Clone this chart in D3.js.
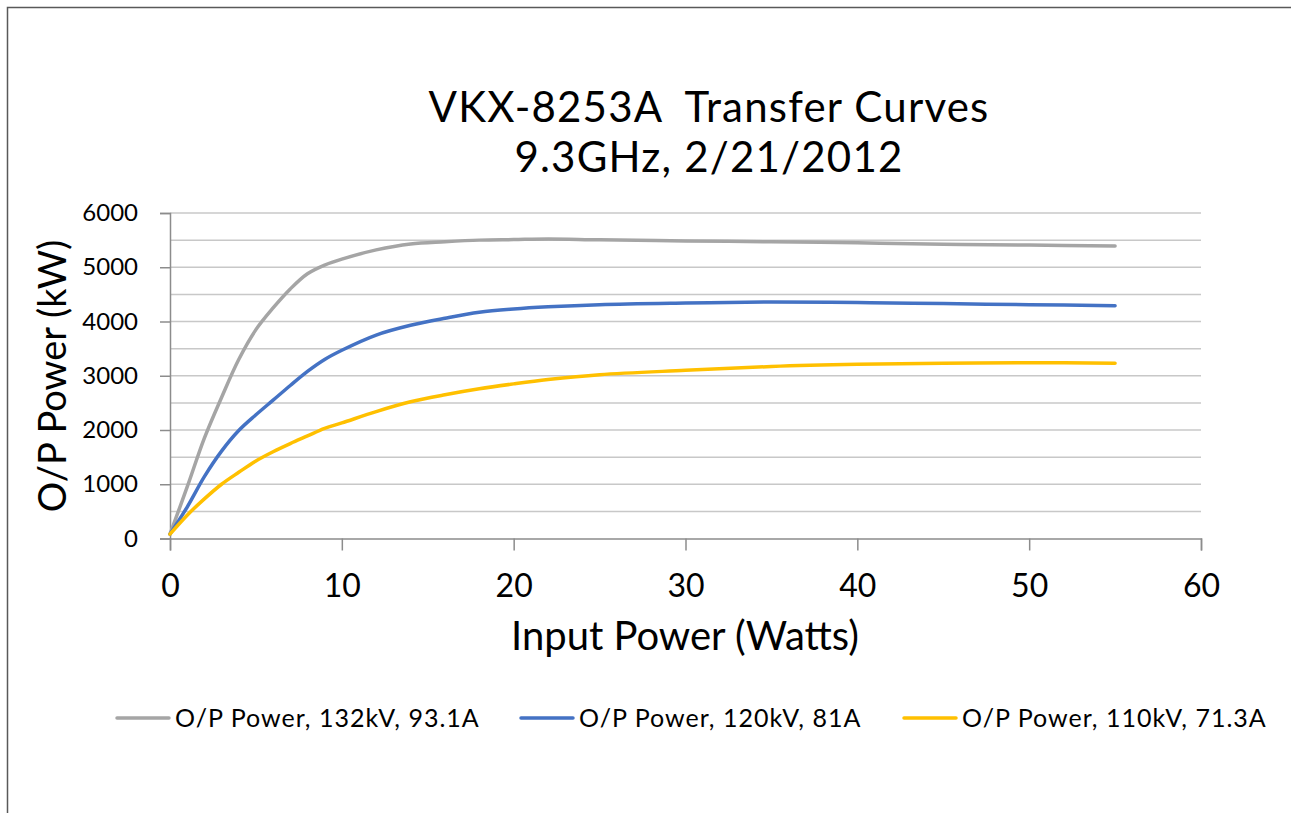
<!DOCTYPE html>
<html>
<head>
<meta charset="utf-8">
<script src="https://cdn.jsdelivr.net/npm/d3@7"></script>
<style>
  body { margin: 0; background: #fff; }
  text { font-family: Lato, "Open Sans", sans-serif; fill: #000; }
</style>
</head>
<body>
<div id="chart"></div>
<script>
// input power (W)
var inputPower = [0, 1, 2, 3, 4, 5, 6, 7, 8, 9, 10, 12, 14, 16, 18, 20, 22, 25, 30, 35, 40, 45, 50, 55];

// O/P power (kW) for each beam setting
var power132kV = [80, 950, 1850, 2600, 3300, 3850, 4250, 4600, 4880, 5040, 5150, 5320, 5430, 5470, 5500, 5510, 5520, 5505, 5485, 5470, 5450, 5425, 5410, 5390];
var power120kV = [80, 580, 1140, 1610, 1990, 2280, 2550, 2820, 3080, 3300, 3470, 3750, 3930, 4060, 4170, 4230, 4270, 4310, 4340, 4360, 4350, 4330, 4310, 4290];
var power110kV = [80, 430, 730, 1000, 1220, 1430, 1600, 1750, 1890, 2030, 2130, 2340, 2520, 2650, 2760, 2850, 2930, 3020, 3100, 3170, 3210, 3230, 3240, 3230];

var seriesNames = ["O/P Power, 132kV, 93.1A", "O/P Power, 120kV, 81A", "O/P Power, 110kV, 71.3A"];
var seriesColors = ["#A5A5A5", "#4472C4", "#FFC000"];

var xTicks = [0, 10, 20, 30, 40, 50, 60];
var yTicks = [0, 1000, 2000, 3000, 4000, 5000, 6000];
var yGrid = d3.range(0, 6001, 500);

var W = 1291, H = 813;
var margin = {top: 213, left: 170};
var width = 1201 - margin.left,
    height = 538.5 - margin.top;

var svg = d3.select("#chart").append("svg")
  .attr("width", W)
  .attr("height", H);

// outer frame
svg.append("path")
  .attr("d", "M7.5," + H + "V7.5H" + W)
  .attr("fill", "none")
  .attr("stroke", "#595959")
  .attr("stroke-width", 1.5);

// title
var title = svg.append("text")
  .attr("x", 709)
  .attr("text-anchor", "middle")
  .attr("xml:space", "preserve")
  .style("white-space", "pre")
  .style("font-size", "42px")
  .style("letter-spacing", "1.2px");
title.append("tspan").attr("x", 709).attr("y", 122).text("VKX-8253A  Transfer Curves");
title.append("tspan").attr("x", 709).attr("y", 172).text("9.3GHz, 2/21/2012");

var g = svg.append("g")
  .attr("transform", "translate(" + margin.left + "," + margin.top + ")");

var x = d3.scaleLinear().domain([0, 60]).range([0, width]);
var y = d3.scaleLinear().domain([0, 6000]).range([height, 0]);

// gridlines
g.selectAll(".grid")
  .data(yGrid.filter(function(d) { return d > 0; }))
  .enter()
  .append("line")
  .attr("x1", 0)
  .attr("x2", width)
  .attr("y1", function(d) { return y(d); })
  .attr("y2", function(d) { return y(d); })
  .attr("stroke", "#C8C8C8")
  .attr("stroke-width", 1.5);

// Y axis
var yAxis = g.append("g")
  .call(d3.axisLeft(y).tickValues(yTicks).tickFormat(d3.format("d")).tickSize(10).tickPadding(22));
yAxis.selectAll("text").style("font-size", "24px").attr("fill", "#000");

// X axis
var xAxis = g.append("g")
  .attr("transform", "translate(0," + height + ")")
  .call(d3.axisBottom(x).tickValues(xTicks).tickSize(12).tickPadding(24));
xAxis.selectAll("text").style("font-size", "32px").attr("fill", "#000");

[yAxis, xAxis].forEach(function(a) {
  a.select(".domain").attr("stroke", "#8C8C8C").attr("stroke-width", 1.5);
  a.selectAll(".tick line").attr("stroke", "#8C8C8C").attr("stroke-width", 1.5);
});

// axis titles
svg.append("text")
  .attr("x", 685)
  .attr("y", 650)
  .attr("text-anchor", "middle")
  .style("font-size", "40px")
  .text("Input Power (Watts)");

svg.append("text")
  .attr("transform", "translate(66,376) rotate(-90)")
  .attr("text-anchor", "middle")
  .style("font-size", "38px")
  .text("O/P Power (kW)");

// lines
var allSeries = [power132kV, power120kV, power110kV];
var line = d3.line()
  .x(function(d, i) { return x(inputPower[i]); })
  .y(function(d) { return y(d); })
  .curve(d3.curveCatmullRom.alpha(0.5));

g.selectAll(".series")
  .data(allSeries)
  .enter()
  .append("path")
  .attr("d", line)
  .attr("fill", "none")
  .attr("stroke", function(d, i) { return seriesColors[i]; })
  .attr("stroke-width", 3.5)
  .attr("stroke-linecap", "round")
  .attr("stroke-linejoin", "round");

// legend
var legendX = [117, 521, 904];
var legend = svg.selectAll(".legend")
  .data(seriesNames)
  .enter()
  .append("g")
  .attr("transform", function(d, i) { return "translate(" + legendX[i] + ",718)"; });
legend.append("line")
  .attr("x1", 0).attr("x2", 52)
  .attr("stroke", function(d, i) { return seriesColors[i]; })
  .attr("stroke-width", 3.5)
  .attr("stroke-linecap", "round");
legend.append("text")
  .attr("x", 58)
  .attr("y", 9)
  .style("font-size", "25px")
  .style("letter-spacing", "1px")
  .attr("fill", "#222")
  .text(function(d) { return d; });
</script>
</body>
</html>
